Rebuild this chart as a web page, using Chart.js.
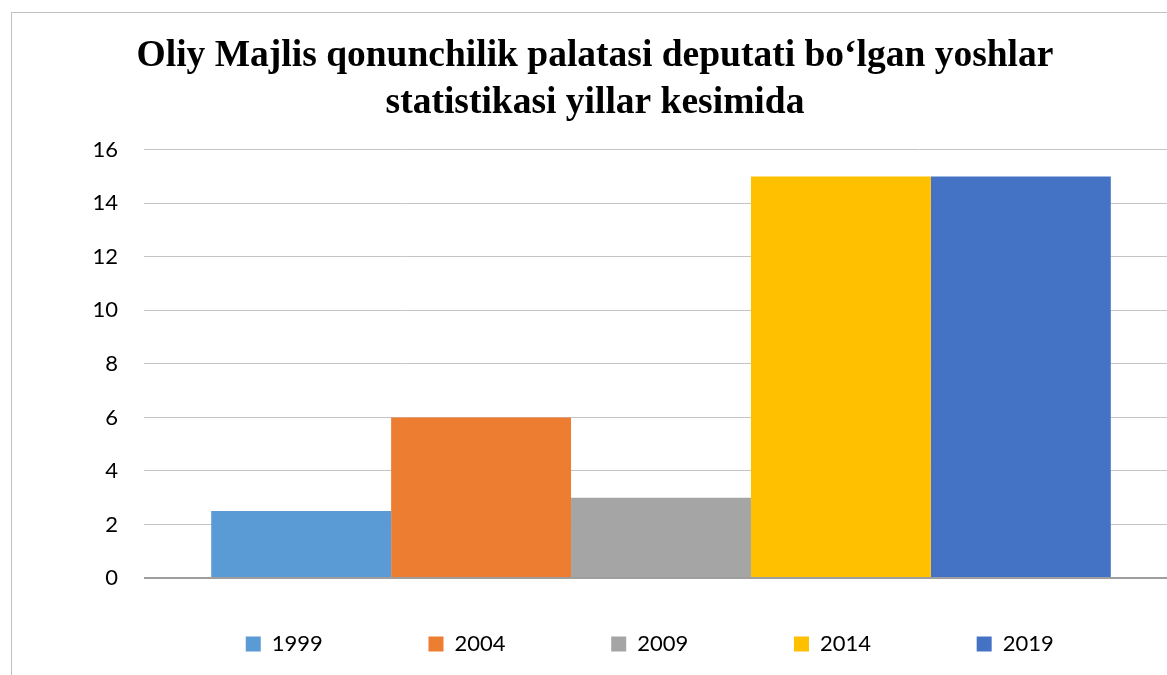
<!DOCTYPE html>
<html>
<head>
<meta charset="utf-8">
<script src="https://cdn.jsdelivr.net/npm/chart.js@4.4.0/dist/chart.umd.min.js"></script>
<style>
	html, body { margin: 0; padding: 0; background: #fff; overflow: hidden; }
	.frame { position: absolute; left: 11px; top: 12px; width: 1168px; height: 663px; border-left: 1px solid #c0c0c0; border-top: 1px solid #c0c0c0; }
	canvas { display: block; }
</style>
</head>
<body>
<div class="frame"><canvas id="youthChart" width="1168" height="663"></canvas></div>
<script>
const years = ['1999', '2004', '2009', '2014', '2019'];
const deputies = [2.5, 6, 3, 15, 15];
const barColors = ['#5B9BD5', '#ED7D31', '#A5A5A5', '#FFC000', '#4472C4'];
const yMin = 0;
const yMax = 16;
const yStep = 2;
const titleLines = ['Oliy Majlis qonunchilik palatasi deputati bo\u2018lgan yoshlar', 'statistikasi yillar kesimida'];

// one dataset per year, all in a single category so the bars touch
const datasets = years.map(function(year, i) {
	return {
		label: year,
		data: [deputies[i]],
		backgroundColor: barColors[i],
		borderWidth: 0
	};
});

const ctx = document.getElementById('youthChart').getContext('2d');
new Chart(ctx, {
	type: 'bar',
	data: {
		labels: [''],
		datasets: datasets
	},
	options: {
		responsive: false,
		animation: false,
		layout: {
			padding: { left: 0, right: 2, top: 0, bottom: 11 }
		},
		datasets: {
			bar: { barPercentage: 1, categoryPercentage: 0.87 }
		},
		scales: {
			x: { display: false },
			y: {
				min: yMin,
				max: yMax,
				ticks: {
					stepSize: yStep,
					padding: 26,
					color: '#000',
					font: { family: 'Lato', size: 22 }
				},
				grid: {
					drawTicks: false,
					color: function(c) { return c.tick && c.tick.value === 0 ? '#9e9e9e' : '#c4c4c4'; },
					lineWidth: function(c) { return c.tick && c.tick.value === 0 ? 2 : 1; }
				},
				border: { display: false },
				afterFit: function(scale) { scale.width = 132; }
			}
		},
		plugins: {
			tooltip: { enabled: false },
			title: {
				display: true,
				text: titleLines,
				color: '#000',
				font: { family: 'Liberation Serif', size: 37.5, weight: 'bold', lineHeight: 1.25 },
				padding: { top: 20, bottom: 23 }
			},
			legend: {
				position: 'bottom',
				fullSize: false,
				labels: {
					boxWidth: 15,
					boxHeight: 15,
					padding: 55,
					color: '#000',
					font: { family: 'Lato', size: 22 },
					generateLabels: function(chart) {
						const items = Chart.defaults.plugins.legend.labels.generateLabels(chart);
						// trailing spaces widen the gap between entries
						items.forEach(function(item, i) {
							item.text = item.text + ' '.repeat(i < items.length - 1 ? 9 : 4);
						});
						return items;
					}
				}
			}
		}
	}
});
</script>
</body>
</html>
